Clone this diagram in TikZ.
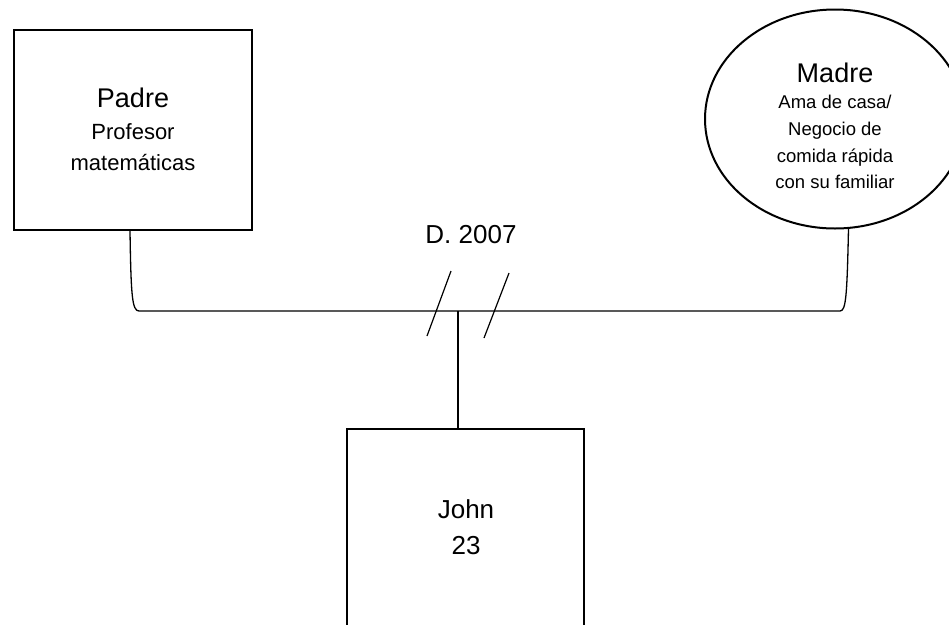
\documentclass[tikz,border=0pt]{standalone}
\usepackage{fontspec}
\setmainfont{Liberation Sans}
\usetikzlibrary{shapes.geometric}
\begin{document}
\begin{tikzpicture}[x=1pt,y=-1pt,
  box/.style={draw,line width=2pt,rectangle,inner sep=0pt},
  oval/.style={draw,line width=2pt,ellipse,inner sep=0pt},
  conn/.style={line width=1.3pt},
  stem/.style={line width=2pt},
  slash/.style={line width=1.2pt},
  lbl/.style={anchor=base,inner sep=0pt}]
\useasboundingbox (0,0) rectangle (949,624);
\clip (0,0) rectangle (949,624);
% shapes
\node[box,minimum width=238pt,minimum height=200pt] (padre) at (133,130) {};
\node[oval,minimum width=260pt,minimum height=219pt] (madre) at (835,119) {};
\node[box,minimum width=237pt,minimum height=271pt] (john) at (465.5,564.5) {};
% texts
\node[lbl,font=\fontsize{27}{27}\selectfont] (padreA) at (133,107) {Padre};
\node[lbl,font=\fontsize{22}{22}\selectfont] (padreB) at (133,139) {Profesor};
\node[lbl,font=\fontsize{22}{22}\selectfont] (padreC) at (133,170) {matemáticas};
\node[lbl,font=\fontsize{27}{27}\selectfont] (madreA) at (835,82) {Madre};
\node[lbl,font=\fontsize{18.5}{18.5}\selectfont] (madreB) at (835,108) {Ama de casa/};
\node[lbl,font=\fontsize{18.5}{18.5}\selectfont] (madreC) at (835,135) {Negocio de};
\node[lbl,font=\fontsize{18.5}{18.5}\selectfont] (madreD) at (835,162) {comida rápida};
\node[lbl,font=\fontsize{18.5}{18.5}\selectfont] (madreE) at (835,188) {con su familiar};
\node[lbl,font=\fontsize{26}{26}\selectfont] (div) at (471,243) {D. 2007};
\node[lbl,font=\fontsize{26}{26}\selectfont] (johnA) at (466,518) {John};
\node[lbl,font=\fontsize{26}{26}\selectfont] (johnB) at (466,554) {23};
% connectors
\coordinate (fork) at (458,311);
\draw[conn] ([xshift=-3pt]padre.south) .. controls (131,295) and (132,311) .. (139,311)
  -- (840,311) .. controls (846,311) and (847,296) .. (madre.-83);
\draw[stem] (fork) -- ([xshift=-7.5pt]john.north);
% divorce marks
\draw[slash] (451,271) -- (427,336);
\draw[slash] (509,273) -- (484,338);
\end{tikzpicture}
\end{document}
